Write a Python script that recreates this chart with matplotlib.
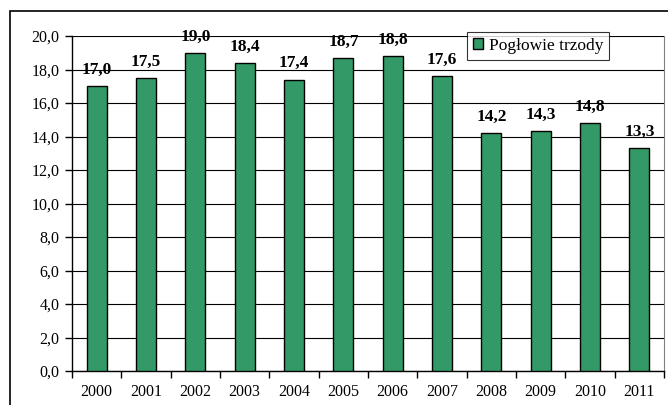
import matplotlib.pyplot as plt
from matplotlib.patches import Rectangle
import numpy as np

# dane
lata = ['2000', '2001', '2002', '2003', '2004', '2005', '2006', '2007', '2008', '2009', '2010', '2011']
poglowie = [17.0, 17.5, 19.0, 18.4, 17.4, 18.7, 18.8, 17.6, 14.2, 14.3, 14.8, 13.3]
y_ticks = [0, 2, 4, 6, 8, 10, 12, 14, 16, 18, 20]

plt.rcParams['font.family'] = ['Liberation Serif', 'DejaVu Serif']

fig = plt.figure(figsize=(6.68, 4.05), dpi=100)
ax = fig.add_axes([72/668, 34/405, 592/668, 335/405])

x = np.arange(len(lata))
ax.bar(x, poglowie, width=0.41, color='#339966', edgecolor='black', linewidth=1, zorder=3,
       label='Pogłowie trzody')

for xi, v in zip(x, poglowie):
    ax.annotate(f'{v:.1f}'.replace('.', ','), (xi, v), xytext=(0, 6), textcoords='offset points',
                ha='center', va='bottom', fontsize=12.5, fontweight='bold', zorder=4)

ax.set_xlim(-0.5, len(lata) - 0.5)
ax.set_ylim(0, 20)
ax.set_yticks(y_ticks)
ax.set_yticklabels([f'{t:.1f}'.replace('.', ',') for t in y_ticks], fontsize=11.5)
ax.yaxis.grid(True, color='black', linewidth=0.8, zorder=0)

ax.set_xticks(x)
ax.set_xticklabels(lata, fontsize=11.5)
ax.tick_params(axis='x', length=0, pad=9)
ax.set_xticks(np.arange(-0.5, len(lata)), minor=True)
ax.tick_params(axis='x', which='minor', length=5, direction='out', width=1)
ax.tick_params(axis='y', length=5, direction='out', width=1, pad=4)

ax.spines['top'].set_visible(False)
ax.spines['right'].set_color('#808080')
ax.spines['left'].set_linewidth(1)
ax.spines['bottom'].set_linewidth(1)

leg = ax.legend(loc='upper left', bbox_to_anchor=(395/592, 1.012), fontsize=12.5, frameon=True,
                fancybox=False, edgecolor='black', handlelength=0.6, handleheight=0.6,
                handletextpad=0.3, borderpad=0.35, borderaxespad=0)
leg.get_frame().set_linewidth(0.8)
leg.set_zorder(5)

# ramka wykresu
fig.patches.append(Rectangle((10/668, -0.05), 1.0, (405 - 11)/405 + 0.05, transform=fig.transFigure,
                             fill=False, edgecolor='black', linewidth=1.2))

plt.savefig('out.png', dpi=100)
